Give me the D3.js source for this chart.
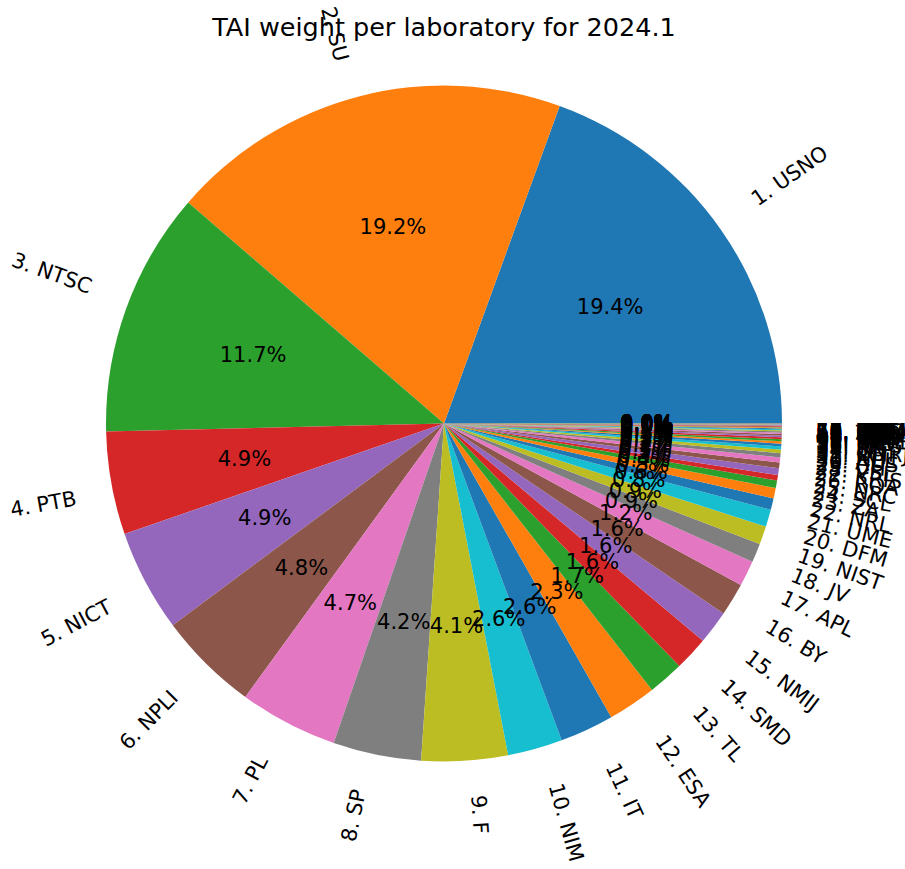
<!DOCTYPE html>
<html><head><meta charset="utf-8">
<script src="https://cdn.jsdelivr.net/npm/d3@7"></script>
<style>body{margin:0;background:#fff}text{font-family:"DejaVu Sans",sans-serif;fill:#000}</style>
</head><body>
<svg id="c" width="905" height="869"></svg>
<script>
const title = "TAI weight per laboratory for 2024.1";
const labs = ["USNO","SU","NTSC","PTB","NICT","NPLI","PL","SP","F","NIM","IT","ESA","TL","SMD","NMIJ","BY","APL","JV","NIST","DFM","UME","NRL","ZA","SCL",
  "NRC","ROA","KRIS","VSL","CH","AUS","NPL","INTI","ONRJ","LT","SG","TP","IFAG","BEV","MIKE","NIMT","KZ","ORB","DLR","NAO","CNM","INPL","IPQ","SIQ","HKO","TCC","UA","NIS","KIM","MSL","AOS","BIM","DMDM","EIM","GUM","MBM"];
const weights = [19.44,19.22,11.72,4.92,4.88,4.82,4.71,4.21,4.12,2.62,2.58,2.31,1.71,1.63,1.61,1.57,1.22,0.91,0.87,0.82,0.55,0.50,0.36,0.26,
  0.33,0.27,0.24,0.20,0.17,0.15,0.13,0.11,0.10,0.09,0.08,0.07,0.07,0.06,0.05,0.05,0.04,0.04,0.03,0.03,0.03,0.02,0.02,0.02,0.01,0.01,0.01,0.01,0,0,0,0,0,0,0,0];
const palette = ["#1f77b4","#ff7f0e","#2ca02c","#d62728","#9467bd","#8c564b","#e377c2","#7f7f7f","#bcbd22","#17becf"];

const cx = 444, cy = 423.5, R = 338, FS = 21;
const ASC = 0.76 * FS, DESC = 0.21 * FS;
const svg = d3.select("#c");
const data = labs.map((l, i) => ({label: (i + 1) + ". " + l, value: weights[i], i}));
const total = d3.sum(weights);
const pie = d3.pie().value(d => d.value).sort(null)
  .startAngle(Math.PI / 2).endAngle(Math.PI / 2 - 2 * Math.PI);
const arcs = pie(data);
const arc = d3.arc().innerRadius(0).outerRadius(R);
const color = d3.scaleOrdinal().domain(d3.range(10)).range(palette);

const g = svg.append("g").attr("transform", `translate(${cx},${cy})`);
g.selectAll("path.slice").data(arcs).join("path").attr("class", "slice")
  .attr("d", arc).attr("fill", d => color(d.data.i % 10));

const phiOf = a => Math.min(2 * Math.PI - 1e-9, Math.PI / 2 - (a.startAngle + a.endAngle) / 2);

// percentage labels at 0.6R
g.selectAll("text.pct").data(arcs).join("text").attr("class", "pct")
  .attr("x", a => 0.6 * R * Math.cos(phiOf(a)))
  .attr("y", a => -0.6 * R * Math.sin(phiOf(a)))
  .attr("dy", "0.33em")
  .attr("text-anchor", "middle")
  .style("font-size", FS + "px")
  .text(a => (a.data.value / total * 100).toFixed(1) + "%");

// rotated labels at 1.1R, aligned by their rotated bounding box
g.selectAll("text.lab").data(arcs).join("text").attr("class", "lab")
  .style("font-size", FS + "px")
  .attr("text-anchor", "start")
  .text(a => a.data.label)
  .each(function(a) {
    const phi = phiOf(a);
    const X = 1.1 * R * Math.cos(phi), Y = -1.1 * R * Math.sin(phi);
    const right = X > 0;
    const rot = phi * 180 / Math.PI + (right ? 0 : 180);
    const w = this.getComputedTextLength();
    const th = -rot * Math.PI / 180, c = Math.cos(th), s = Math.sin(th);
    const pts = [[0, -ASC], [w, -ASC], [0, DESC], [w, DESC]].map(([x, y]) => [x * c - y * s, x * s + y * c]);
    const minX = d3.min(pts, p => p[0]), maxX = d3.max(pts, p => p[0]);
    const minY = d3.min(pts, p => p[1]), maxY = d3.max(pts, p => p[1]);
    const tx = right ? X - minX : X - maxX;
    const ty = (Y < 0) ? Y - maxY : Y - minY;
    d3.select(this).attr("transform", `translate(${tx},${ty}) rotate(${-rot})`);
  });

svg.append("text").attr("x", cx).attr("y", 36).attr("text-anchor", "middle")
  .style("font-size", "25.5px").text(title);
</script>
</body></html>
